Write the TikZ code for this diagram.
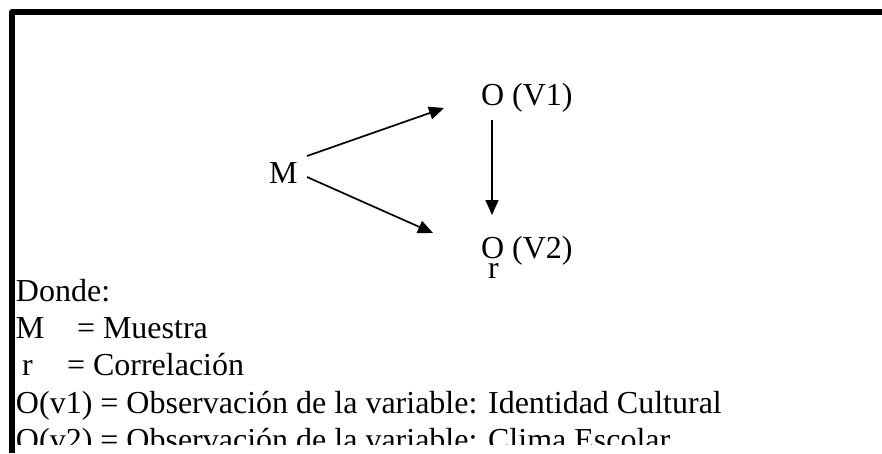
\documentclass[tikz,border=0pt]{standalone}
\usepackage{fontspec}
\setmainfont{Liberation Serif}
\usetikzlibrary{arrows.meta}
\begin{document}
\begin{tikzpicture}[x=1pt,y=-1pt,
  txt/.style={anchor=base west,inner sep=0pt,outer sep=0pt,font=\fontsize{32}{37.5}\selectfont},
  arr/.style={line width=1.7pt,-{Triangle[length=15pt,width=13pt]}},
  frame/.style={line width=5.5pt,line join=round}]
\useasboundingbox (0,0) rectangle (882,453);
\draw[frame] (12,453) -- (12,12) -- (882,12);
% diagram
\node[txt] (M) at (269,183) {M};
\node[txt] (O1) at (481,105) {O (V1)};
\node[txt] (O2) at (481,258) {O (V2)};
\node[txt] (r) at (488,278) {r};
\coordinate (m1) at (307,156);
\coordinate (m2) at (307,177);
\coordinate (t1) at (444,108);
\coordinate (t2) at (433,233);
\coordinate (v1) at (492,120);
\coordinate (v2) at (492,215);
\draw[arr] (m1) -- (t1);
\draw[arr] (m2) -- (t2);
\draw[arr] (v1) -- (v2);
% legend
\begin{scope}
\clip (0,0) rectangle (882,444);
\node[txt] (donde) at (16,301) {Donde:};
\node[txt] (lm) at (16,338) {M};
\node[txt] (lmd) at (77,338) {= Muestra};
\node[txt] (lr) at (22,375) {r};
\node[txt] (lrd) at (67,375) {= Correlación};
\node[txt] (lo1) at (16,413) {O(v1) = Observación de la variable: Identidad Cultural};
\node[txt] (lo2) at (16,450) {O(v2) = Observación de la variable: Clima Escolar};
\end{scope}
\end{tikzpicture}
\end{document}
